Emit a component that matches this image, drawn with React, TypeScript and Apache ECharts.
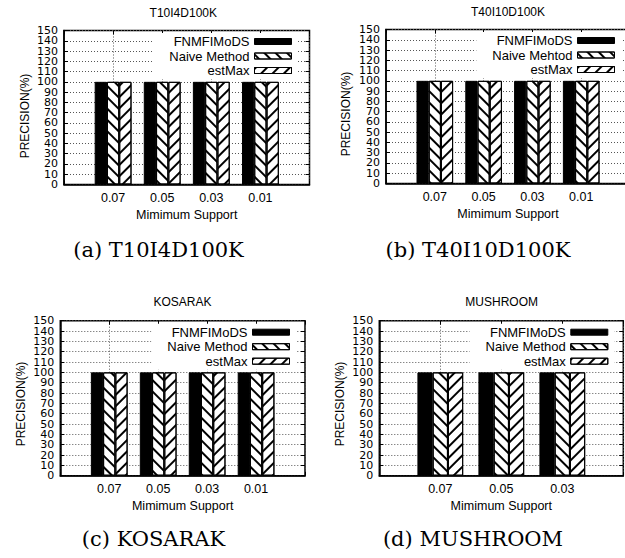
import React, { useEffect, useRef } from 'react';
import * as echarts from 'echarts';

// ---- data ----
const panelTitles = ['T10I4D100K', 'T40I10D100K', 'KOSARAK', 'MUSHROOM'];
const captions = ['(a) T10I4D100K', '(b) T40I10D100K', '(c) KOSARAK', '(d) MUSHROOM'];

const supportsA = ['0.07', '0.05', '0.03', '0.01'];
const supportsB = ['0.07', '0.05', '0.03', '0.01'];
const supportsC = ['0.07', '0.05', '0.03', '0.01'];
const supportsD = ['0.07', '0.05', '0.03'];

const fnmA = [100, 100, 100, 100];
const naiveA = [100, 100, 100, 100];
const estA = [100, 100, 100, 100];

const fnmB = [100, 100, 100, 100];
const naiveB = [100, 100, 100, 100];
const estB = [100, 100, 100, 100];

const fnmC = [100, 100, 100, 100];
const naiveC = [100, 100, 100, 100];
const estC = [100, 100, 100, 100];

const fnmD = [100, 100, 100];
const naiveD = [100, 100, 100];
const estD = [100, 100, 100];

const namesA = ['FNMFIMoDS', 'Naive Method', 'estMax'];
const namesB = ['FNMFIMoDS', 'Naive Mehtod', 'estMax'];
const namesC = ['FNMFIMoDS', 'Naive Method', 'estMax'];
const namesD = ['FNMFIMoDS', 'Naive Method', 'estMax'];

const xAxisName = 'Mimimum Support';
const yAxisName = 'PRECISION(%)';
const yTickLabels = ['0', '10', '20', '30', '40', '50', '60', '70', '80', '90', '100', '110', '120', '130', '140', '150'];
const yMin = 0;
const yMax = 150;
const yStep = 10;

// ---- layout ----
const grids = [
  { left: 64, top: 30.5, width: 245.5, height: 154 },
  { left: 386, top: 29.5, width: 244, height: 154 },
  { left: 60.3, top: 320.7, width: 244.7, height: 155 },
  { left: 379.3, top: 320.7, width: 244, height: 155 },
];
const legendPos = [
  { right: 327, top: 33 },
  { right: 4, top: 32 },
  { right: 329, top: 323.7 },
  { right: 10.7, top: 323.7 },
];
const titlePos = [
  [183.3, 12.5],
  [508, 12],
  [182.5, 301.7],
  [501.7, 301.7],
];
const yNamePos = [
  [24.5, 116],
  [345.5, 114],
  [20.5, 404],
  [339.5, 404],
];
const captionPos = [
  [158.5, 249.5],
  [478, 249.5],
  [153.5, 539],
  [473, 539],
];

const SANS = "'Liberation Sans', Arial, sans-serif";
const DEJA = "'DejaVu Sans', sans-serif";
const NARROW = "'Liberation Sans Narrow', 'Liberation Sans', sans-serif";
const SERIF = "'DejaVu Serif', serif";

function buildOption() {
  const panels = [
    { cats: supportsA, vals: [fnmA, naiveA, estA], names: namesA },
    { cats: supportsB, vals: [fnmB, naiveB, estB], names: namesB },
    { cats: supportsC, vals: [fnmC, naiveC, estC], names: namesC },
    { cats: supportsD, vals: [fnmD, naiveD, estD], names: namesD },
  ];

  const grid: any[] = [];
  const xAxis: any[] = [];
  const yAxis: any[] = [];
  const series: any[] = [];
  const legend: any[] = [];
  const graphic: any[] = [];

  const hatch = (rot: number) => ({
    symbol: 'rect',
    symbolSize: 1,
    color: '#000',
    backgroundColor: '#fff',
    dashArrayX: [1, 0],
    dashArrayY: [1.1, 5.4],
    rotation: rot,
  });

  panels.forEach((p, i) => {
    grid.push({
      ...grids[i],
      show: true,
      borderColor: '#000',
      borderWidth: 1.5,
      backgroundColor: 'transparent',
      containLabel: false,
      outerBoundsMode: 'none',
    });
    const cats = ['', ...p.cats, ' '];
    xAxis.push({
      gridIndex: i,
      type: 'category',
      data: cats,
      boundaryGap: false,
      position: 'bottom',
      axisLine: { show: true, lineStyle: { color: '#000', width: 1.5 } },
      axisTick: { show: true, inside: true, length: 4, interval: 0, lineStyle: { color: '#000', width: 1 } },
      axisLabel: { show: true, interval: 0, color: '#000', fontFamily: SANS, fontSize: 12.5, margin: 7 },
      splitLine: { show: true, interval: 0, lineStyle: { color: '#555', width: 1, type: [1, 2] } },
      name: xAxisName,
      nameLocation: 'middle',
      nameGap: 24,
      nameTextStyle: { color: '#000', fontFamily: SANS, fontSize: 12.5 },
    });
    xAxis.push({
      gridIndex: i,
      type: 'category',
      data: cats,
      boundaryGap: false,
      position: 'top',
      axisLine: { show: false },
      axisTick: { show: true, inside: true, length: 4, interval: 0, lineStyle: { color: '#000', width: 1 } },
      axisLabel: { show: false },
      splitLine: { show: false },
    });
    // left axis: tick labels 0..150 (every label shown)
    yAxis.push({
      gridIndex: i,
      type: 'category',
      data: yTickLabels,
      boundaryGap: false,
      position: 'left',
      axisLine: { show: true, lineStyle: { color: '#000', width: 1.5 } },
      axisTick: { show: true, inside: true, length: 4, interval: 0, lineStyle: { color: '#000', width: 1 } },
      axisLabel: {
        show: true,
        interval: 0,
        color: '#000',
        fontFamily: DEJA,
        fontSize: 11,
        margin: 6,
      },
      splitLine: { show: true, interval: 0, lineStyle: { color: '#555', width: 1, type: [1, 2] } },
    });
    // right value axis: scale for the bars
    yAxis.push({
      gridIndex: i,
      type: 'value',
      min: yMin,
      max: yMax,
      interval: yStep,
      position: 'right',
      axisLine: { show: false },
      axisTick: { show: true, inside: true, length: 4, lineStyle: { color: '#000', width: 1 } },
      axisLabel: { show: false },
      splitLine: { show: false },
    });

    const styles = [
      { color: '#000', borderColor: '#000', borderWidth: 1 },
      { color: '#fff', borderColor: '#000', borderWidth: 1, decal: hatch(Math.PI / 4) },
      { color: '#fff', borderColor: '#000', borderWidth: 1, decal: hatch(-Math.PI / 4) },
    ];
    p.vals.forEach((v, k) => {
      series.push({
        type: 'bar',
        name: p.names[k],
        xAxisIndex: 2 * i,
        yAxisIndex: 2 * i + 1,
        data: ['-', ...v, '-'],
        barWidth: '25%',
        barGap: '0%',
        itemStyle: styles[k],
        emphasis: { disabled: true },
        silent: true,
      });
    });

    legend.push({
      orient: 'vertical',
      align: 'right',
      right: legendPos[i].right,
      top: legendPos[i].top,
      itemWidth: 37,
      itemHeight: 6,
      itemGap: 1.5,
      padding: [2, 6, 2, 16],
      backgroundColor: '#fff',
      icon: 'rect',
      selectedMode: false,
      data: p.names,
      itemStyle: { borderColor: '#000', borderWidth: 1 },
      textStyle: { color: '#000', fontFamily: SANS, fontSize: 13, lineHeight: 12 },
    });

    graphic.push({
      type: 'text',
      x: titlePos[i][0],
      y: titlePos[i][1],
      style: {
        text: panelTitles[i],
        fill: '#000',
        fontFamily: SANS,
        fontSize: 12,
        align: 'center',
        verticalAlign: 'middle',
        textAlign: 'center',
        textVerticalAlign: 'middle',
      },
    });
    graphic.push({
      type: 'text',
      x: yNamePos[i][0],
      y: yNamePos[i][1],
      rotation: Math.PI / 2,
      style: {
        text: yAxisName,
        fill: '#000',
        fontFamily: NARROW,
        fontSize: 12,
        align: 'center',
        verticalAlign: 'middle',
        textAlign: 'center',
        textVerticalAlign: 'middle',
      },
    });
    graphic.push({
      type: 'text',
      x: captionPos[i][0],
      y: captionPos[i][1],
      style: {
        text: captions[i],
        fill: '#000',
        fontFamily: SERIF,
        fontSize: 21,
        align: 'center',
        verticalAlign: 'middle',
        textAlign: 'center',
        textVerticalAlign: 'middle',
      },
    });
  });

  return {
    animation: false,
    backgroundColor: '#fff',
    grid,
    xAxis,
    yAxis,
    series,
    legend,
    graphic,
  };
}

export default function App() {
  const ref = useRef<HTMLDivElement>(null);
  useEffect(() => {
    if (!ref.current) return;
    const chart = echarts.init(ref.current, null, { renderer: 'svg' });
    chart.setOption(buildOption() as any);
    return () => chart.dispose();
  }, []);
  return (
    <div
      ref={ref}
      style={{ position: 'absolute', left: 0, top: 0, width: 625, height: 558, background: '#fff' }}
    />
  );
}
